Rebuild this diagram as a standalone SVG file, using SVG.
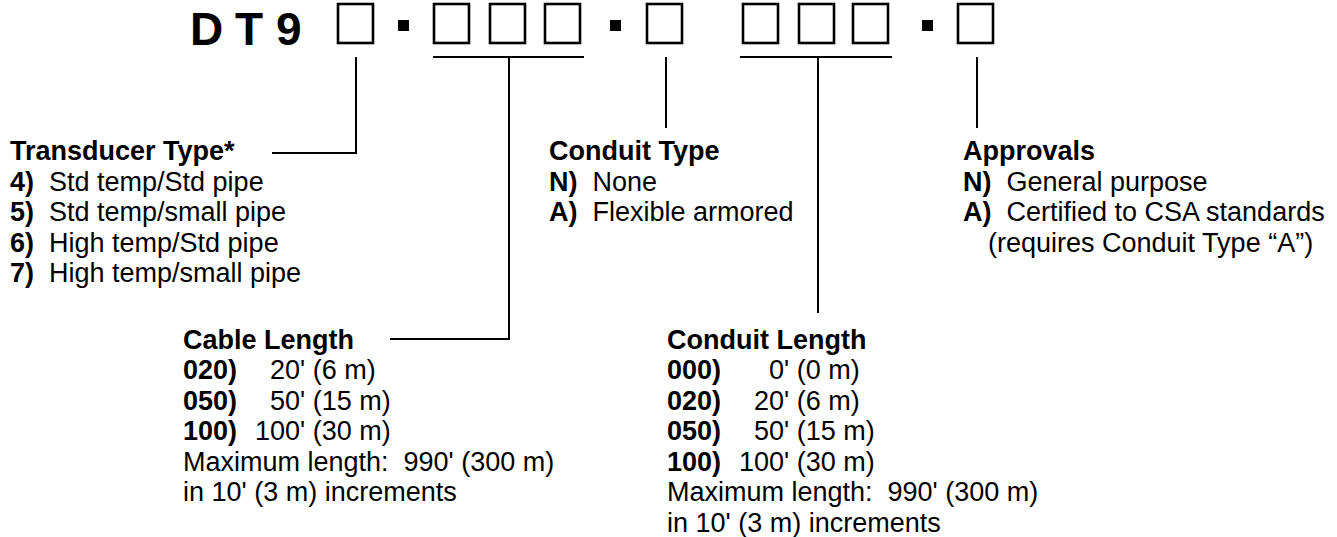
<svg xmlns="http://www.w3.org/2000/svg" width="1337" height="537" viewBox="0 0 1337 537">
<style>
.box{fill:none;stroke:#000;stroke-width:2.6}
.dot{fill:#000}
.ln{fill:none;stroke:#000;stroke-width:2}
text{font-family:"Liberation Sans",Arial,sans-serif;font-size:27px;fill:#000;white-space:pre}
.b{font-weight:bold}
.big{font-size:46px;font-weight:bold}
</style>
<rect width="1337" height="537" fill="#fff"/>
<g id="code">
<text class="big" x="190" y="45">D</text>
<text class="big" x="235" y="45">T</text>
<text class="big" x="276" y="45">9</text>
<rect class="box" x="338" y="4" width="35" height="39"/>
<rect class="dot" x="398" y="20" width="11" height="11"/>
<rect class="box" x="434" y="4" width="35" height="39"/>
<rect class="box" x="490" y="4" width="35" height="39"/>
<rect class="box" x="545" y="4" width="35" height="39"/>
<rect class="dot" x="610" y="20" width="11" height="11"/>
<rect class="box" x="647" y="4" width="35" height="39"/>
<rect class="box" x="743" y="4" width="35" height="39"/>
<rect class="box" x="799" y="4" width="35" height="39"/>
<rect class="box" x="853" y="4" width="35" height="39"/>
<rect class="dot" x="922" y="20" width="11" height="11"/>
<rect class="box" x="958" y="4" width="35" height="39"/>
</g>
<g id="connectors">
<polyline class="ln" points="356,57 356,153 272,153"/>
<line class="ln" x1="433" y1="57" x2="584" y2="57"/>
<polyline class="ln" points="509,57 509,339 390,339"/>
<line class="ln" x1="666" y1="57" x2="666" y2="128"/>
<line class="ln" x1="740" y1="57" x2="892" y2="57"/>
<line class="ln" x1="818" y1="57" x2="818" y2="313"/>
<line class="ln" x1="977" y1="57" x2="977" y2="128"/>
</g>
<g id="transducer-type">
<text class="b" x="10" y="160">Transducer Type*</text>
<text x="10" y="191" xml:space="preserve"><tspan class="b">4)</tspan>  Std temp/Std pipe</text>
<text x="10" y="221" xml:space="preserve"><tspan class="b">5)</tspan>  Std temp/small pipe</text>
<text x="10" y="252" xml:space="preserve"><tspan class="b">6)</tspan>  High temp/Std pipe</text>
<text x="10" y="282" xml:space="preserve"><tspan class="b">7)</tspan>  High temp/small pipe</text>
</g>
<g id="conduit-type">
<text class="b" x="549" y="160">Conduit Type</text>
<text x="549" y="191" xml:space="preserve"><tspan class="b">N)</tspan>  None</text>
<text x="549" y="221" xml:space="preserve"><tspan class="b">A)</tspan>  Flexible armored</text>
</g>
<g id="approvals">
<text class="b" x="963" y="160">Approvals</text>
<text x="963" y="191" xml:space="preserve"><tspan class="b">N)</tspan>  General purpose</text>
<text x="963" y="221" xml:space="preserve"><tspan class="b">A)</tspan>  Certified to CSA standards</text>
<text x="988" y="252">(requires Conduit Type “A”)</text>
</g>
<g id="cable-length">
<text class="b" x="183" y="349">Cable Length</text>
<text class="b" x="183" y="379">020)</text><text x="270" y="379">20' (6 m)</text>
<text class="b" x="183" y="410">050)</text><text x="270" y="410">50' (15 m)</text>
<text class="b" x="183" y="440">100)</text><text x="255" y="440">100' (30 m)</text>
<text x="183" y="471" xml:space="preserve">Maximum length:  990' (300 m)</text>
<text x="183" y="501">in 10' (3 m) increments</text>
</g>
<g id="conduit-length">
<text class="b" x="667" y="349">Conduit Length</text>
<text class="b" x="667" y="379">000)</text><text x="769" y="379">0' (0 m)</text>
<text class="b" x="667" y="410">020)</text><text x="754" y="410">20' (6 m)</text>
<text class="b" x="667" y="440">050)</text><text x="754" y="440">50' (15 m)</text>
<text class="b" x="667" y="471">100)</text><text x="739" y="471">100' (30 m)</text>
<text x="667" y="501" xml:space="preserve">Maximum length:  990' (300 m)</text>
<text x="667" y="532">in 10' (3 m) increments</text>
</g>
</svg>
